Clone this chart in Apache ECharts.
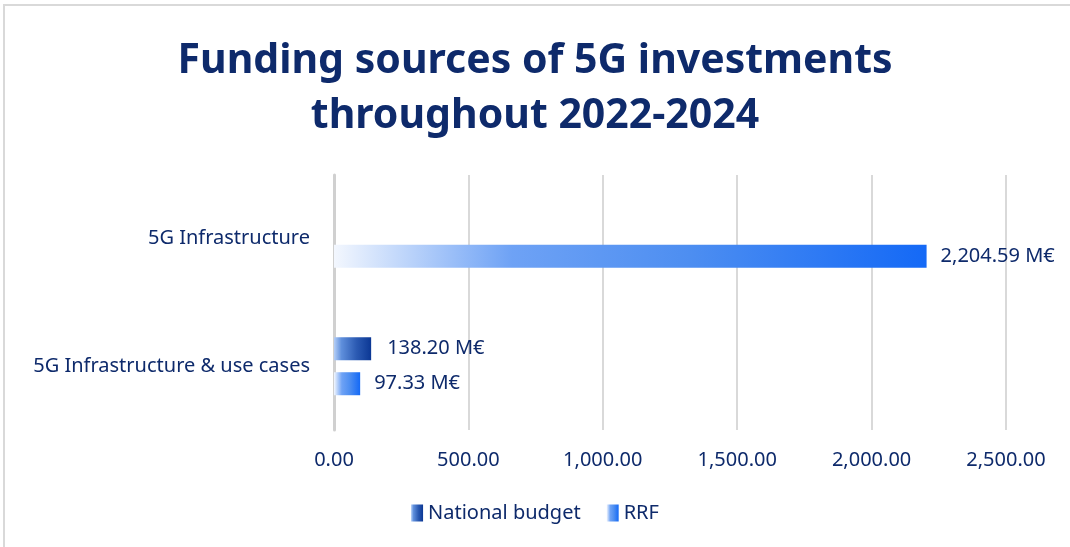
<!DOCTYPE html>
<html>
<head>
<meta charset="utf-8">
<script src="https://cdn.jsdelivr.net/npm/echarts@6/dist/echarts.min.js"></script>
<style>
  html, body { margin: 0; padding: 0; background: #fff; }
  #frame { position: absolute; left: 3px; top: 4px; width: 1100px; height: 600px;
           border-top: 2px solid #d9d9d9; border-left: 2px solid #d9d9d9; }
  #main { position: absolute; left: 0; top: 0; width: 1070px; height: 547px; }
</style>
</head>
<body>
<div id="frame"></div>
<div id="main"></div>
<script>
// categories top to bottom
var categories = ['5G Infrastructure', '5G Infrastructure & use cases'];
var nationalBudget = [null, 138.20];
var rrf = [2204.59, 97.33];
var xTicks = [0, 500, 1000, 1500, 2000, 2500];

var navy = '#0e2a6b';
var fontFam = '"Noto Sans", "Open Sans", sans-serif';

function fmt(v) {
  return Number(v).toLocaleString('en-US', { minimumFractionDigits: 2, maximumFractionDigits: 2 });
}

var myChart = echarts.init(document.getElementById('main'));

var nationalColor = new echarts.graphic.LinearGradient(0, 0, 1, 0, [
  { offset: 0, color: '#b5cff7' },
  { offset: 0.2, color: '#5f8fdc' },
  { offset: 0.6, color: '#2c5bb3' },
  { offset: 1, color: '#0b3794' }
]);
var rrfColor = new echarts.graphic.LinearGradient(0, 0, 1, 0, [
  { offset: 0, color: '#f3f7fe' },
  { offset: 0.3, color: '#6ea2f5' },
  { offset: 0.6, color: '#4d8ef1' },
  { offset: 1, color: '#1469f6' }
]);

var option = {
  animation: false,
  title: {
    text: 'Funding sources of 5G investments\nthroughout 2022-2024',
    left: 'center',
    top: 29,
    textStyle: {
      color: navy,
      fontFamily: fontFam,
      fontWeight: 'bold',
      fontSize: 41,
      lineHeight: 55
    }
  },
  legend: {
    bottom: 19,
    left: 'center',
    icon: 'rect',
    itemWidth: 12,
    itemHeight: 17,
    itemGap: 26,
    textStyle: { color: navy, fontFamily: fontFam, fontSize: 20 },
    data: ['National budget', 'RRF']
  },
  grid: { left: 334, right: 64, top: 175, bottom: 117, containLabel: false },
  xAxis: {
    type: 'value',
    min: 0,
    max: 2500,
    interval: 500,
    axisLine: { show: false },
    axisTick: { show: false },
    splitLine: { lineStyle: { color: '#d9d9d9', width: 2 } },
    axisLabel: {
      margin: 20,
      color: navy,
      fontFamily: fontFam,
      fontSize: 20,
      formatter: function (v) { return xTicks.indexOf(v) >= 0 ? fmt(v) : ''; }
    }
  },
  yAxis: {
    type: 'category',
    inverse: true,
    data: categories,
    axisLine: { show: true, lineStyle: { color: '#d0d0d0', width: 3 } },
    axisTick: { show: false },
    axisLabel: {
      margin: 24,
      color: navy,
      fontFamily: fontFam,
      fontSize: 20
    }
  },
  series: [
    {
      name: 'National budget',
      type: 'bar',
      data: nationalBudget,
      barWidth: 23,
      barGap: '52%',
      itemStyle: { color: nationalColor },
      label: {
        show: true,
        position: 'right',
        distance: 16,
        color: navy,
        fontFamily: fontFam,
        fontSize: 20,
        formatter: function (p) { return fmt(p.value) + ' M€'; }
      }
    },
    {
      name: 'RRF',
      type: 'bar',
      data: rrf,
      barWidth: 23,
      itemStyle: { color: rrfColor },
      label: {
        show: true,
        position: 'right',
        distance: 14,
        color: navy,
        fontFamily: fontFam,
        fontSize: 20,
        formatter: function (p) { return fmt(p.value) + ' M€'; }
      }
    }
  ]
};

myChart.setOption(option);
</script>
</body>
</html>
